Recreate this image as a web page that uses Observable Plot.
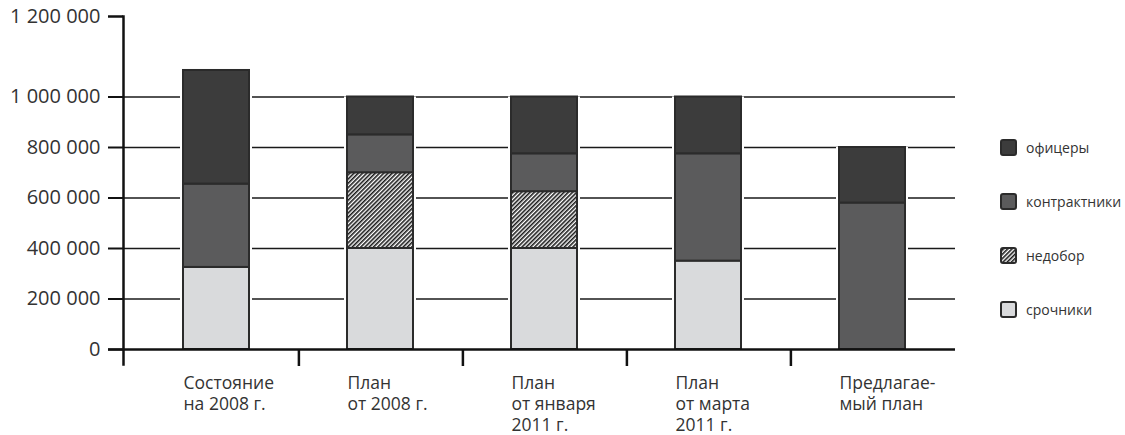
<!DOCTYPE html>
<html>
<head>
<meta charset="utf-8">
<script src="https://cdn.jsdelivr.net/npm/d3@7"></script>
<script src="https://cdn.jsdelivr.net/npm/@observablehq/plot@0.6"></script>
<style>
  body { margin: 0; background: #fff; font-family: "Open Sans", sans-serif; }
  #wrap { position: relative; width: 1125px; height: 435px; }
  #legend { position: absolute; left: 1000px; top: 120px; }
  .row { display: flex; align-items: center; height: 54px; font-size: 14px; color: #333; }
  .row svg { margin-right: 9px; }
</style>
</head>
<body>
<div id="wrap"><div id="legend"></div></div>
<script>
// ---- data ----
const categories = ["Состояние на 2008 г.", "План от 2008 г.", "План от января 2011 г.", "План от марта 2011 г.", "Предлагаемый план"];
const categoryLabels = ["Состояние\nна 2008 г.", "План\nот 2008 г.", "План\nот января\n2011 г.", "План\nот марта\n2011 г.", "Предлагае-\nмый план"];
const conscripts = [325000, 400000, 400000, 350000, 0];      // срочники
const shortfall  = [0, 300000, 225000, 0, 0];                // недобор
const contract   = [330000, 150000, 150000, 425000, 580000]; // контрактники
const officers   = [450000, 150000, 225000, 225000, 220000]; // офицеры
const seriesNames = ["срочники", "недобор", "контрактники", "офицеры"];
const seriesFills = ["#d9dadc", "url(#hatch)", "#5b5b5c", "#3c3c3c"];
const legendOrder = ["офицеры", "контрактники", "недобор", "срочники"];
const yTicks = [0, 200000, 400000, 600000, 800000, 1000000];
const gridTicks = [200000, 400000, 600000, 800000, 1000000];
const topTickLabel = "1 200 000"; // printed at the top end of the axis in the original

// ---- table ----
const seriesValues = [conscripts, shortfall, contract, officers];
const rows = [];
categories.forEach((c, i) => {
  seriesValues.forEach((vals, s) => {
    if (vals[i] > 0) rows.push({cat: c, series: seriesNames[s], value: vals[i]});
  });
});
const labelOf = new Map(categories.map((c, i) => [c, categoryLabels[i]]));

const W = 1125, H = 435, mTop = 16, mBottom = 71;
const y0px = 349, y1Mpx = 96.5;                 // pixel of 0 and of 1 000 000
const pxPerUnit = (y0px - y1Mpx) / 1000000;
const yTopValue = (y0px - mTop) / pxPerUnit;    // value at the top end of the axis line

const xRange = [132, 956];
const padIn = 0.6, padOut = 0.3;
const step = (xRange[1] - xRange[0]) / (categories.length - padIn + 2 * padOut);
const bw = step * (1 - padIn);
const fmt = d => d3.format(",")(d).replace(/,/g, " ");

const chart = Plot.plot({
  width: W,
  height: H,
  marginLeft: 123,
  marginRight: 170,
  marginTop: mTop,
  marginBottom: mBottom,
  style: {fontFamily: "Open Sans, sans-serif", fontSize: "17px", background: "white", color: "#333"},
  x: {domain: categories, range: xRange, paddingInner: padIn, paddingOuter: padOut, axis: null, label: null},
  y: {type: "linear", domain: [0, yTopValue], range: [y0px, mTop], axis: null, label: null},
  color: {type: "ordinal", domain: seriesNames, range: seriesFills},
  marks: [
    Plot.ruleY(gridTicks, {stroke: "#1a1a1a", strokeWidth: 1.5}),
    Plot.barY(rows, {x: "cat", y: "value", fill: "white", insetLeft: -3, insetRight: -3}),
    Plot.barY(rows, {x: "cat", y: "value", fill: "series", stroke: "#2b2b2b", strokeWidth: 2}),
    Plot.ruleY([0], {stroke: "#111", strokeWidth: 2.5, insetLeft: -15}),
    Plot.frame({anchor: "left", stroke: "#111", strokeWidth: 2.5}),
    Plot.axisY({ticks: yTicks, tickSize: 15, tickPadding: 8, tickFormat: fmt, label: null, stroke: "#111", strokeWidth: 2, fill: "#333", fontSize: 20}),
    Plot.axisY({ticks: [yTopValue], tickSize: 15, tickPadding: 8, tickFormat: () => topTickLabel, label: null, stroke: "#111", strokeWidth: 2.5, fill: "#333", fontSize: 20}),
    Plot.ruleX(categories.slice(0, categories.length - 1), {dx: step / 2, y1: 0, y2: 0, insetBottom: -17, stroke: "#111", strokeWidth: 2.5}),
    Plot.axisX({tickSize: 0, tickPadding: 10, textAnchor: "start", dx: -bw / 2, lineHeight: 1.2, label: null, tickFormat: d => labelOf.get(d), fill: "#333", fontSize: 17.5})
  ]
});

// hatch pattern definition
const ns = "http://www.w3.org/2000/svg";
function makePattern(id) {
  const p = document.createElementNS(ns, "pattern");
  p.setAttribute("id", id);
  p.setAttribute("patternUnits", "userSpaceOnUse");
  p.setAttribute("width", "3");
  p.setAttribute("height", "3");
  p.setAttribute("patternTransform", "rotate(45)");
  const bg = document.createElementNS(ns, "rect");
  bg.setAttribute("width", "3"); bg.setAttribute("height", "3"); bg.setAttribute("fill", "#fff");
  const st = document.createElementNS(ns, "rect");
  st.setAttribute("width", "1.6"); st.setAttribute("height", "3"); st.setAttribute("fill", "#1a1a1a");
  p.appendChild(bg); p.appendChild(st);
  return p;
}
const defs = document.createElementNS(ns, "defs");
defs.appendChild(makePattern("hatch"));
chart.insertBefore(defs, chart.firstChild);

document.getElementById("wrap").insertBefore(chart, document.getElementById("legend"));

// legend
const legend = d3.select("#legend");
legendOrder.forEach(name => {
  const fill = seriesFills[seriesNames.indexOf(name)];
  const row = legend.append("div").attr("class", "row");
  const sw = row.append("svg").attr("width", 17).attr("height", 17);
  sw.append("rect").attr("x", 1).attr("y", 1).attr("width", 15).attr("height", 15).attr("rx", 2)
    .attr("fill", fill).attr("stroke", "#2b2b2b").attr("stroke-width", 2);
  row.append("span").text(name);
});
</script>
</body>
</html>
